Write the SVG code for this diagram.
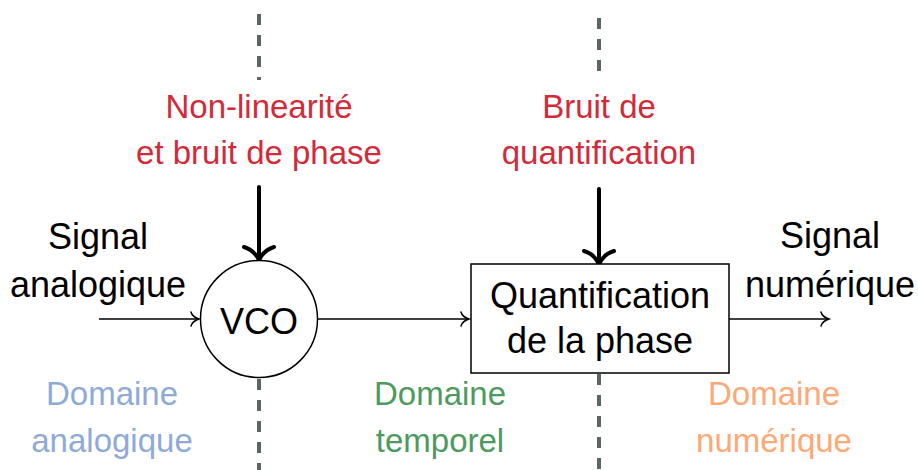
<svg xmlns="http://www.w3.org/2000/svg" width="918" height="470" viewBox="0 0 918 470">
<defs>
<style>
.t{font-family:"Liberation Sans",Arial,sans-serif;font-size:36px;text-anchor:middle;fill:#000}
.s{font-family:"Liberation Sans",Arial,sans-serif;font-size:33px;text-anchor:middle}
.red{fill:#d32a3a}.blue{fill:#8faad6}.green{fill:#4d9a5e}.orange{fill:#fca877}
.dash{stroke:#5d6464;stroke-width:4;stroke-dasharray:11 10;fill:none}
.thin{stroke:#000;stroke-width:1.5;fill:none}
.thick{stroke:#000;stroke-width:4;fill:none;stroke-linecap:round}
</style>
<marker id="ah" markerUnits="userSpaceOnUse" viewBox="-10 -9 12 18" refX="0" refY="0" markerWidth="12" markerHeight="18" orient="auto" overflow="visible">
<path d="M -8 -7 C -7 -3, -3 -1, 0 0 C -3 1, -7 3, -8 7" stroke="#000" stroke-width="1.5" fill="none" stroke-linecap="round"/>
</marker>
</defs>
<g id="domains">
<path class="dash" d="M259 14 V80"/>
<path class="dash" d="M259 379 V470"/>
<path class="dash" d="M599 18 V80"/>
<path class="dash" d="M599 374 V470"/>
</g>
<g id="connectors">
<path class="thin" d="M99 319 H199" marker-end="url(#ah)"/>
<path class="thin" d="M318 319 H469" marker-end="url(#ah)"/>
<path class="thin" d="M729 319 H829" marker-end="url(#ah)"/>
<path class="thick" d="M259 187 V258"/>
<path class="thick" d="M244 247 C 251 249, 256 254, 259 260 C 262 254, 267 249, 274 247"/>
<path class="thick" d="M599 189 V262"/>
<path class="thick" d="M584 251 C 591 253, 596 258, 599 264 C 602 258, 607 253, 614 251"/>
</g>
<g id="vco">
<circle cx="259" cy="319" r="58.5" fill="#fff" stroke="#000" stroke-width="1.5"/>
<text class="t" x="259" y="334">VCO</text>
</g>
<g id="quantif">
<rect x="471" y="264" width="258" height="109" fill="#fff" stroke="#000" stroke-width="1.5"/>
<text class="t" x="600" y="308">Quantification</text>
<text class="t" x="600" y="353">de la phase</text>
</g>
<g id="input">
<text class="t" x="98" y="249">Signal</text>
<text class="t" x="98" y="297">analogique</text>
</g>
<g id="output">
<text class="t" x="830" y="248">Signal</text>
<text class="t" x="830" y="297">numérique</text>
</g>
<g id="noise-vco">
<text class="s red" x="259" y="118">Non-linearité</text>
<text class="s red" x="259" y="164">et bruit de phase</text>
</g>
<g id="noise-quant">
<text class="s red" x="599" y="118">Bruit de</text>
<text class="s red" x="599" y="164">quantification</text>
</g>
<g id="dom-analog">
<text class="s blue" x="112" y="405">Domaine</text>
<text class="s blue" x="112" y="452">analogique</text>
</g>
<g id="dom-temp">
<text class="s green" x="440" y="405">Domaine</text>
<text class="s green" x="440" y="452">temporel</text>
</g>
<g id="dom-num">
<text class="s orange" x="774" y="405">Domaine</text>
<text class="s orange" x="774" y="452">numérique</text>
</g>
</svg>
